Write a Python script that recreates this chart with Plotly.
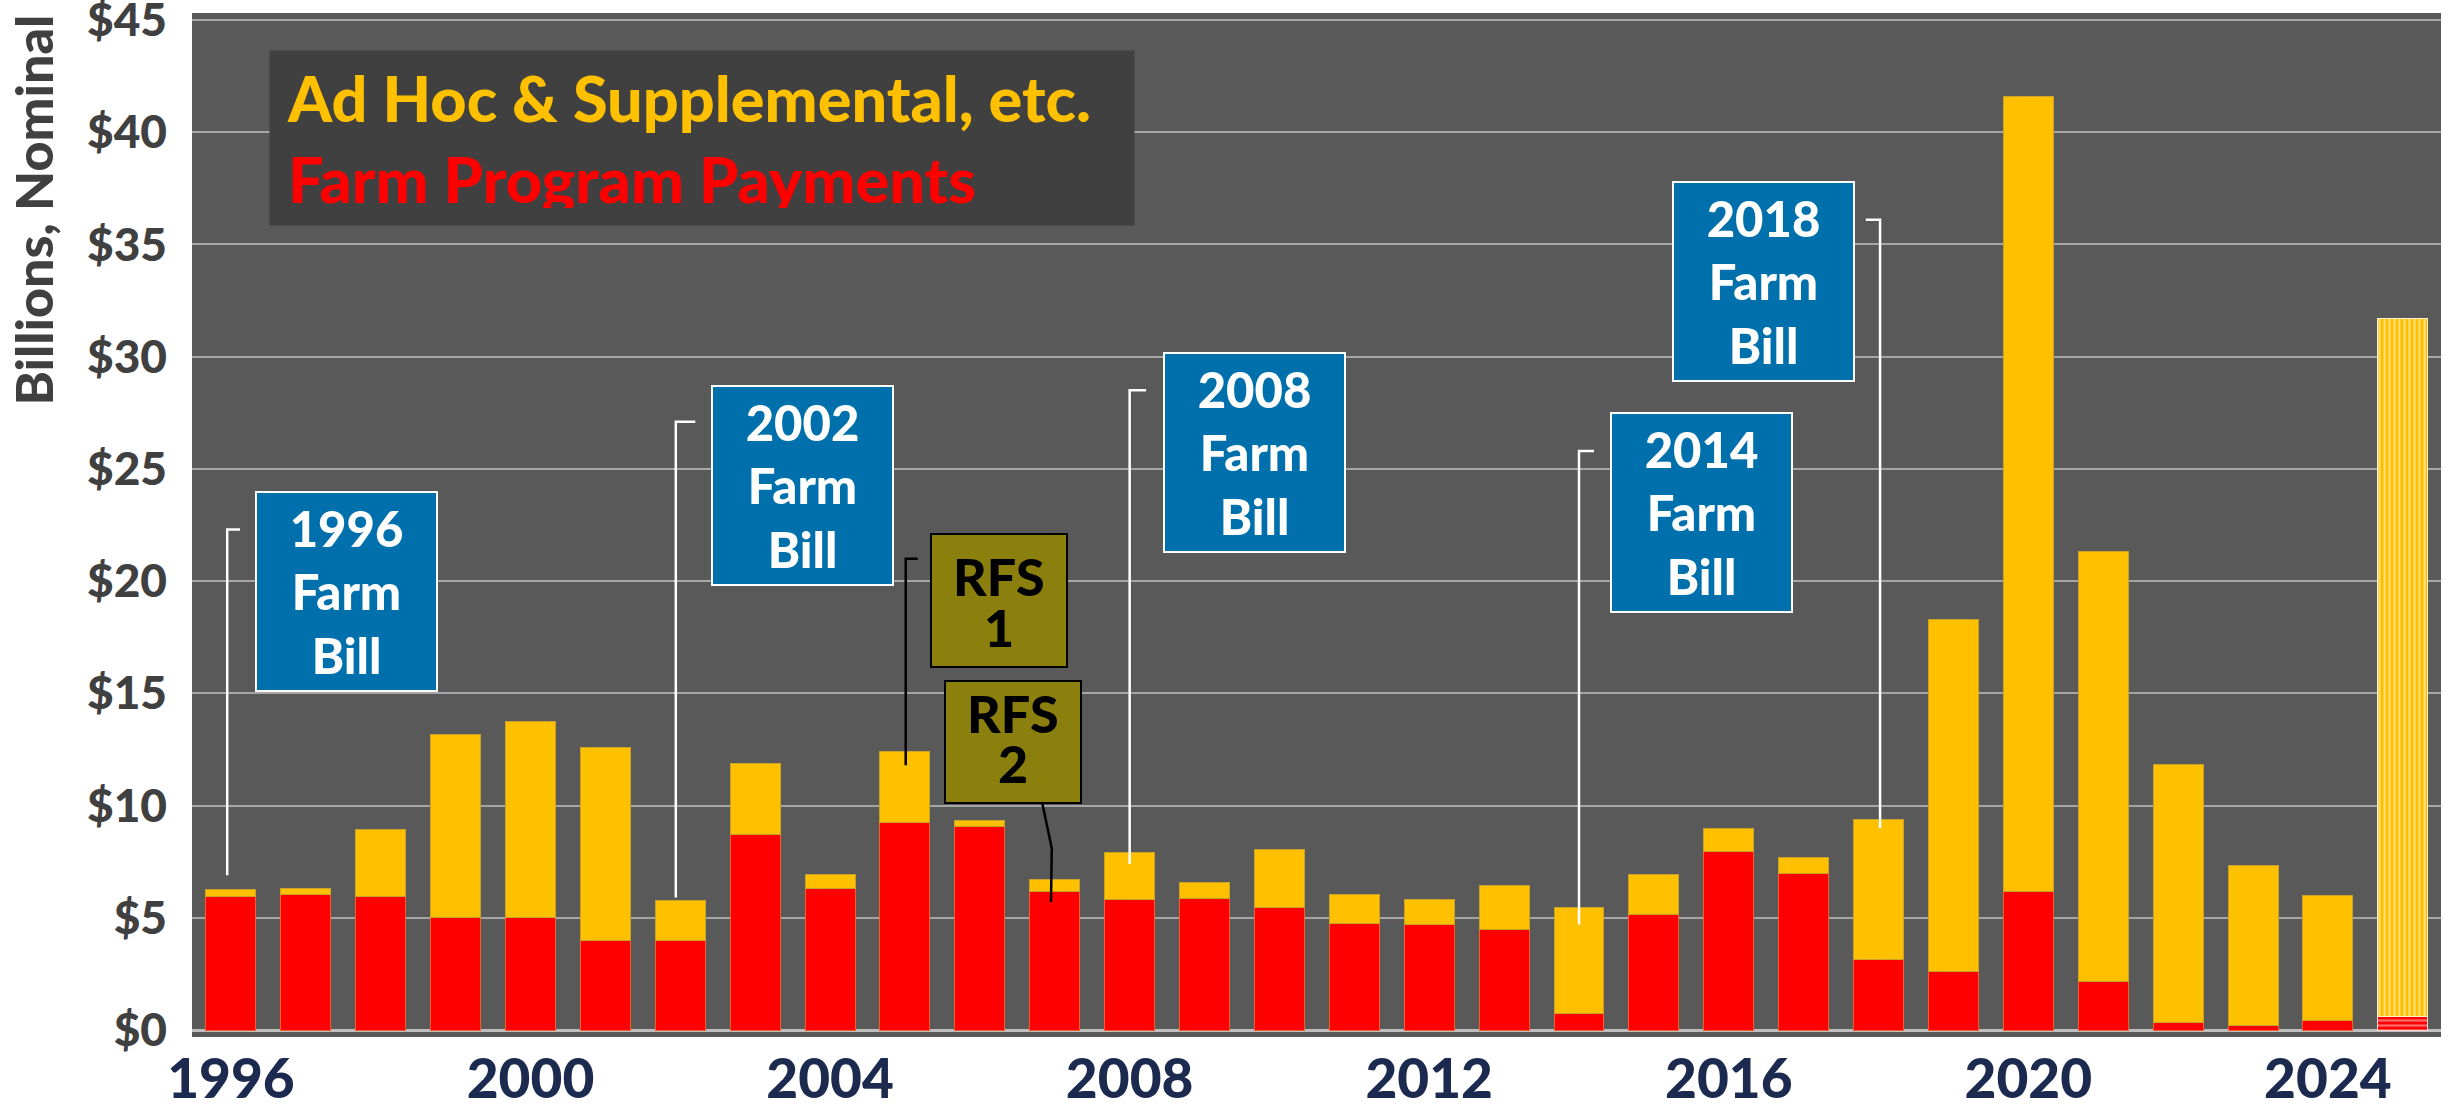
import plotly.graph_objects as go

# values in billions of dollars, nominal
years = list(range(1996, 2026))
farm_program = [5.94, 6.03, 5.94, 5.00, 5.00, 4.01, 4.01, 8.70, 6.31, 9.25,
                9.06, 6.16, 5.82, 5.87, 5.45, 4.75, 4.69, 4.46, 0.72, 5.16,
                7.96, 6.96, 3.13, 2.61, 6.18, 2.15, 0.33, 0.22, 0.42, 0.60]
ad_hoc = [0.33, 0.28, 2.99, 8.17, 8.73, 8.59, 1.74, 3.18, 0.60, 3.15,
          0.28, 0.53, 2.11, 0.71, 2.61, 1.29, 1.13, 1.97, 4.73, 1.78,
          1.01, 0.71, 6.27, 15.69, 35.42, 19.15, 11.52, 7.13, 5.58, 31.10]
x_ticks = list(range(1996, 2025, 4))
y_ticks = list(range(0, 50, 5))
y_labels = [f"${v}" for v in y_ticks]

farm_bills = [("1996", 1997.54, 19.54), ("2002", 2003.63, 24.27),
              ("2008", 2009.67, 25.74), ("2014", 2015.64, 23.04),
              ("2018", 2016.47, 33.33)]
# label, box centre x, box centre y, box height(px), line y's
rfs = [("1", 2006.25, 19.14, 135, 20.23, 17.96),
       ("2", 2006.44, 12.83, 124, 14.13, 11.90)]

YELLOW = "#FFC000"
RED = "#FF0000"
FONT = "Lato"

n = len(years)
projected = [False] * (n - 1) + [True]

fig = go.Figure()
fig.add_trace(go.Bar(
    x=years, y=farm_program, name="Farm Program Payments",
    marker=dict(
        color=RED,
        line=dict(color=["#F2602A" if not p else "#FFD9D9" for p in projected], width=1),
        pattern=dict(shape=["-" if p else "" for p in projected],
                     fgcolor="#FFD6D6", bgcolor=RED, size=5, solidity=0.45),
    ),
))
fig.add_trace(go.Bar(
    x=years, y=ad_hoc, name="Ad Hoc & Supplemental, etc.",
    marker=dict(
        color=YELLOW,
        line=dict(color=["#C9A227" if not p else "#FFF2CC" for p in projected], width=1),
        pattern=dict(shape=["|" if p else "" for p in projected],
                     fgcolor="white", bgcolor=YELLOW, size=5, solidity=0.4),
    ),
))

# elbow connectors from the boxes down to the bars
connectors = [
    ([1995.95, 1995.95, 1996.12], [6.9, 22.3, 22.3], "white"),
    ([2001.94, 2001.94, 2002.2], [5.9, 27.1, 27.1], "white"),
    ([2008.0, 2008.0, 2008.22], [7.4, 28.5, 28.5], "white"),
    ([2014.0, 2014.0, 2014.2], [4.7, 25.8, 25.8], "white"),
    ([2018.02, 2018.02, 2017.83], [9.0, 36.1, 36.1], "white"),
    ([2005.01, 2005.01, 2005.17], [11.8, 21.0, 21.0], "black"),
    ([2006.95, 2006.96, 2006.83], [5.7, 8.1, 10.16], "black"),
]
for xs, ys, col in connectors:
    path = "M {} {} L {} {} L {} {}".format(xs[0], ys[0], xs[1], ys[1], xs[2], ys[2])
    fig.add_shape(type="path", path=path, xref="x", yref="y",
                  line=dict(color=col, width=2.5))

annotations = []
for yr, x, y in farm_bills:
    annotations.append(dict(
        x=x, y=y, xref="x", yref="y", showarrow=False,
        text=f"{yr}<br>Farm<br>Bill",
        font=dict(family=FONT, size=49, color="white", weight=900),
        bgcolor="#0070AD", bordercolor="white", borderwidth=2, borderpad=0,
        width=179, height=197,
    ))
for num, x, y, h, y1, y2 in rfs:
    annotations.append(dict(
        x=x, y=y, xref="x", yref="y", showarrow=False, text=" ",
        bgcolor="#8B800D", bordercolor="black", borderwidth=2, borderpad=0,
        width=134, height=h - 4,
    ))
    for txt, yy in (("RFS", y1), (num, y2)):
        annotations.append(dict(
            x=x, y=yy, xref="x", yref="y", showarrow=False, text=txt,
            font=dict(family=FONT, size=52, color="black", weight=900),
        ))
annotations.append(dict(
    x=1996.51, y=43.67, xref="x", yref="y", xanchor="left", yanchor="top",
    showarrow=False, align="left",
    text=(f"<span style='color:{YELLOW}'>Ad Hoc &amp; Supplemental, etc.</span><br>"
          f"<span style='color:{RED}'>Farm Program Payments</span>"),
    font=dict(family=FONT, size=63, weight=900),
    bgcolor="#404040", borderpad=17, width=830, height=140,
))
annotations.append(dict(
    x=-0.0707, y=0.808, xref="paper", yref="paper", xanchor="center", yanchor="middle",
    showarrow=False, text="Billions, Nominal", textangle=-90,
    font=dict(family=FONT, size=52, color="#404040", weight=900),
))

fig.update_layout(
    width=2451, height=1107,
    margin=dict(l=192, r=10, t=13, b=70),
    barmode="stack", bargap=0.333,
    showlegend=False,
    paper_bgcolor="white", plot_bgcolor="#595959",
    annotations=annotations,
    xaxis=dict(
        range=[1995.48, 2025.51], tickvals=x_ticks, showgrid=False,
        tickfont=dict(family=FONT, size=55, color="#1B2A4E", weight=900),
        ticklabelstandoff=5, ticklabeloverflow="allow", automargin=False,
    ),
    yaxis=dict(
        range=[-0.31, 45.31], tickvals=y_ticks, ticktext=y_labels,
        gridcolor="#A6A6A6", gridwidth=2,
        zeroline=True, zerolinecolor="#BFBFBF", zerolinewidth=3,
        tickfont=dict(family=FONT, size=46, color="#404040", weight=900),
        ticklabelstandoff=24, ticklabeloverflow="allow", automargin=False,
    ),
)

fig.write_html("out.html", config={"displayModeBar": False},
               post_script="document.body.style.margin='0px';")
